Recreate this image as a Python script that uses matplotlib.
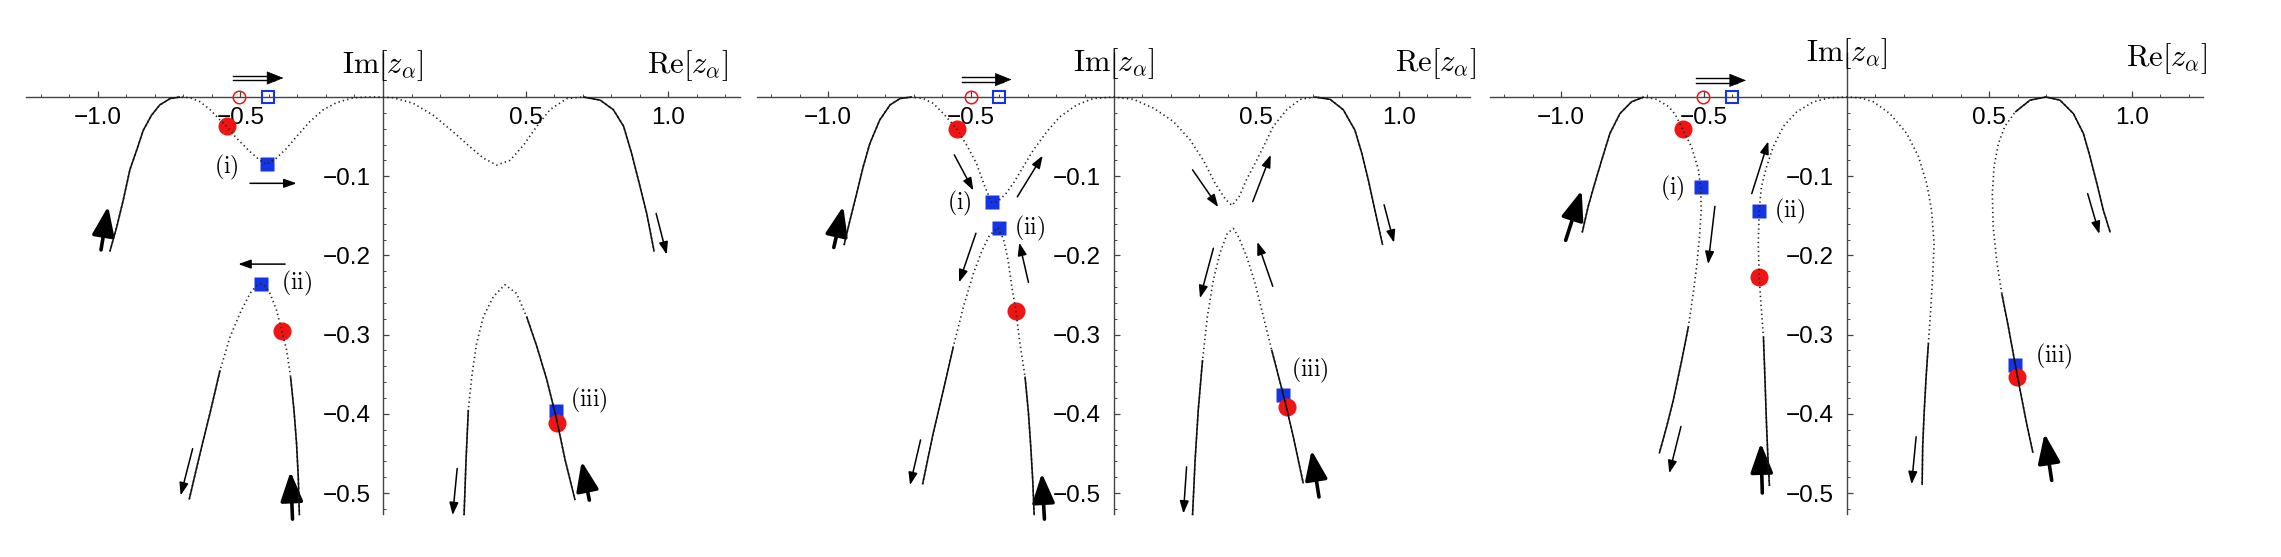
import numpy as np
import matplotlib
matplotlib.use("Agg")
import matplotlib.pyplot as plt

plt.rcParams['mathtext.fontset'] = 'cm'
plt.rcParams['font.family'] = ['Liberation Sans', 'DejaVu Sans']

# ---- curves, (Re, Im) pairs ----
p1_top = [(-0.957, -0.195), (-0.933, -0.164), (-0.910, -0.130), (-0.887, -0.092), (-0.863, -0.067),
          (-0.840, -0.042), (-0.811, -0.023), (-0.782, -0.010), (-0.746, -0.002), (-0.711, 0.000),
          (-0.676, -0.001), (-0.641, -0.006), (-0.606, -0.016), (-0.571, -0.029), (-0.548, -0.037),
          (-0.513, -0.052), (-0.466, -0.069), (-0.431, -0.080), (-0.408, -0.085), (-0.373, -0.077),
          (-0.338, -0.065), (-0.303, -0.050), (-0.256, -0.031), (-0.209, -0.016), (-0.162, -0.007),
          (-0.104, -0.001), (-0.050, 0.000), (0.000, 0.000), (0.036, -0.001), (0.106, -0.008),
          (0.176, -0.023), (0.246, -0.044), (0.305, -0.063), (0.351, -0.077), (0.398, -0.086),
          (0.445, -0.080), (0.492, -0.061), (0.539, -0.037), (0.585, -0.016), (0.644, -0.002),
          (0.702, 0.000), (0.761, -0.004), (0.807, -0.016), (0.843, -0.037), (0.871, -0.071),
          (0.895, -0.105), (0.924, -0.147), (0.950, -0.195)]
p1_low_left = [(-0.679, -0.508), (-0.641, -0.450), (-0.606, -0.399), (-0.571, -0.345), (-0.536, -0.303),
               (-0.501, -0.273), (-0.466, -0.248), (-0.443, -0.238), (-0.428, -0.236), (-0.410, -0.240),
               (-0.396, -0.248), (-0.373, -0.269), (-0.355, -0.295), (-0.338, -0.319), (-0.324, -0.353),
               (-0.312, -0.395), (-0.303, -0.437), (-0.297, -0.479), (-0.293, -0.528)]
p1_low_right = [(0.284, -0.528), (0.291, -0.458), (0.299, -0.395), (0.311, -0.353), (0.328, -0.311),
                (0.352, -0.277), (0.387, -0.252), (0.427, -0.237), (0.468, -0.248), (0.503, -0.277),
                (0.539, -0.315), (0.574, -0.357), (0.607, -0.405), (0.638, -0.458), (0.673, -0.509)]

p2_top = [(-0.944, -0.187), (-0.923, -0.155), (-0.900, -0.122), (-0.877, -0.088), (-0.854, -0.059),
          (-0.819, -0.029), (-0.783, -0.010), (-0.748, -0.002), (-0.708, 0.000), (-0.667, -0.002),
          (-0.632, -0.008), (-0.596, -0.021), (-0.550, -0.040), (-0.514, -0.061), (-0.480, -0.084),
          (-0.451, -0.113), (-0.427, -0.133), (-0.405, -0.132), (-0.377, -0.122), (-0.351, -0.109),
          (-0.316, -0.088), (-0.281, -0.067), (-0.234, -0.044), (-0.188, -0.025), (-0.129, -0.010),
          (-0.071, -0.002), (0.000, 0.000), (0.070, -0.003), (0.140, -0.014), (0.210, -0.031),
          (0.268, -0.054), (0.315, -0.080), (0.356, -0.109), (0.392, -0.129), (0.415, -0.137),
          (0.440, -0.126), (0.465, -0.105), (0.490, -0.088), (0.525, -0.063), (0.560, -0.037),
          (0.607, -0.016), (0.654, -0.003), (0.706, 0.000), (0.759, -0.003), (0.805, -0.016),
          (0.846, -0.042), (0.870, -0.071), (0.893, -0.105), (0.916, -0.143), (0.943, -0.187)]
p2_low_left = [(-0.669, -0.489), (-0.632, -0.425), (-0.596, -0.370), (-0.561, -0.315), (-0.526, -0.265),
               (-0.491, -0.223), (-0.462, -0.195), (-0.435, -0.175), (-0.405, -0.165), (-0.385, -0.180),
               (-0.370, -0.205), (-0.356, -0.240), (-0.342, -0.270), (-0.328, -0.311), (-0.310, -0.353),
               (-0.298, -0.399), (-0.290, -0.441), (-0.283, -0.484), (-0.278, -0.528)]
p2_low_right = [(0.277, -0.528), (0.286, -0.458), (0.297, -0.395), (0.312, -0.332), (0.329, -0.277),
                (0.350, -0.231), (0.373, -0.197), (0.399, -0.172), (0.420, -0.166), (0.440, -0.178),
                (0.467, -0.202), (0.496, -0.235), (0.525, -0.277), (0.554, -0.319), (0.600, -0.383),
                (0.630, -0.429), (0.665, -0.488)]

p3_left = [(-0.926, -0.171), (-0.905, -0.138), (-0.882, -0.109), (-0.858, -0.080), (-0.829, -0.046),
           (-0.794, -0.021), (-0.753, -0.006), (-0.710, 0.000), (-0.665, -0.003), (-0.624, -0.012),
           (-0.600, -0.022), (-0.574, -0.041), (-0.543, -0.063), (-0.519, -0.092), (-0.511, -0.114),
           (-0.509, -0.143), (-0.515, -0.176), (-0.525, -0.214), (-0.537, -0.248), (-0.554, -0.290),
           (-0.577, -0.332), (-0.607, -0.383), (-0.630, -0.416), (-0.656, -0.450)]
p3_mid = [(-0.270, -0.491), (-0.276, -0.450), (-0.280, -0.416), (-0.286, -0.353), (-0.291, -0.303),
          (-0.300, -0.260), (-0.306, -0.227), (-0.309, -0.185), (-0.306, -0.144), (-0.298, -0.113),
          (-0.280, -0.088), (-0.257, -0.063), (-0.221, -0.037), (-0.175, -0.019), (-0.116, -0.006),
          (-0.058, -0.001), (0.000, 0.000), (0.047, -0.001), (0.094, -0.006), (0.152, -0.021),
          (0.211, -0.046), (0.252, -0.075), (0.281, -0.109), (0.298, -0.143), (0.307, -0.185),
          (0.302, -0.227), (0.295, -0.269), (0.287, -0.311), (0.279, -0.353), (0.272, -0.399),
          (0.267, -0.441), (0.265, -0.490)]
p3_right = [(0.653, -0.449), (0.631, -0.412), (0.599, -0.353), (0.567, -0.290), (0.544, -0.248),
            (0.526, -0.206), (0.514, -0.164), (0.511, -0.122), (0.517, -0.088), (0.532, -0.059),
            (0.555, -0.037), (0.591, -0.019), (0.643, -0.004), (0.699, 0.000), (0.748, -0.004),
            (0.795, -0.021), (0.830, -0.046), (0.853, -0.075), (0.877, -0.109), (0.900, -0.143),
            (0.924, -0.171)]

# ---- marked points ----
p1_open_red, p1_open_blue = (-0.505, 0.0), (-0.404, 0.0)
p1_red = [(-0.548, -0.037), (-0.355, -0.295), (0.609, -0.412)]
p1_blue = [(-0.408, -0.085), (-0.428, -0.236), (0.605, -0.397)]
p2_open_red, p2_open_blue = (-0.499, 0.0), (-0.400, 0.0)
p2_red = [(-0.550, -0.040), (-0.342, -0.270), (0.607, -0.391)]
p2_blue = [(-0.427, -0.133), (-0.400, -0.166), (0.595, -0.376)]
p3_open_red, p3_open_blue = (-0.502, 0.0), (-0.400, 0.0)
p3_red = [(-0.574, -0.041), (-0.306, -0.227), (0.599, -0.353)]
p3_blue = [(-0.511, -0.114), (-0.306, -0.144), (0.591, -0.338)]

point_names = ['(i)', '(ii)', '(iii)']
p1_name_pos = [(-0.548, -0.089), (-0.303, -0.236), (0.720, -0.383)]
p2_name_pos = [(-0.540, -0.134), (-0.295, -0.166), (0.689, -0.345)]
p3_name_pos = [(-0.609, -0.115), (-0.200, -0.144), (0.725, -0.328)]

x_ticks = [-1.0, -0.5, 0.5, 1.0]
y_ticks = [-0.1, -0.2, -0.3, -0.4, -0.5]

# ---- arrows: (tail, tip) ----
p1_thin = [((-0.466, -0.109), (-0.303, -0.109)), ((-0.343, -0.211), (-0.507, -0.211)),
           ((0.957, -0.147), (0.994, -0.199)), ((-0.667, -0.444), (-0.709, -0.503)),
           ((0.260, -0.469), (0.244, -0.528))]
p1_thick = [((-0.988, -0.193), (-0.963, -0.138)), ((-0.317, -0.533), (-0.324, -0.473)),
            ((0.723, -0.509), (0.696, -0.460))]
p2_thin = [((-0.558, -0.073), (-0.491, -0.118)), ((-0.337, -0.126), (-0.248, -0.074)),
           ((-0.482, -0.172), (-0.541, -0.234)), ((-0.298, -0.234), (-0.330, -0.184)),
           ((0.277, -0.092), (0.367, -0.139)), ((0.488, -0.132), (0.551, -0.073)),
           ((0.350, -0.191), (0.303, -0.254)), ((0.558, -0.239), (0.504, -0.183)),
           ((0.948, -0.136), (0.983, -0.184)), ((-0.676, -0.433), (-0.713, -0.490)),
           ((0.256, -0.467), (0.245, -0.526))]
p2_thick = [((-0.980, -0.190), (-0.947, -0.138)), ((-0.242, -0.533), (-0.251, -0.475)),
            ((0.720, -0.505), (0.694, -0.446))]
p3_thin = [((-0.461, -0.138), (-0.485, -0.211)), ((-0.332, -0.122), (-0.274, -0.056)),
           ((0.845, -0.122), (0.886, -0.173)), ((-0.580, -0.416), (-0.621, -0.475)),
           ((0.244, -0.429), (0.228, -0.489))]
p3_thick = [((-0.984, -0.181), (-0.928, -0.118)), ((-0.295, -0.500), (-0.300, -0.437)),
            ((0.719, -0.484), (0.694, -0.425))]
p1_double = (-0.525, -0.349, 0.024)
p2_double = (-0.532, -0.357, 0.022)
p3_double = (-0.527, -0.352, 0.021)

W, H = 2281, 557
SX, SY = 285.4, 792.0
Y0 = 97.0
XLIM, YLIM = (-1.25, 1.25), (-0.527, 0.055)
RED, BLUE = '#f01414', '#1434e6'


def panel_axes(fig, ox):
    left = ox + XLIM[0] * SX
    right = ox + XLIM[1] * SX
    top = Y0 - YLIM[1] * SY
    bottom = Y0 - YLIM[0] * SY
    ax = fig.add_axes([left / W, 1 - bottom / H, (right - left) / W, (bottom - top) / H])
    ax.set_xlim(XLIM)
    ax.set_ylim(YLIM)
    ax.patch.set_visible(False)
    for s in ('top', 'right'):
        ax.spines[s].set_visible(False)
    for s in ('left', 'bottom'):
        ax.spines[s].set_position(('data', 0))
        ax.spines[s].set_color('#444444')
        ax.spines[s].set_linewidth(1.0)
    ax.set_xticks(x_ticks)
    ax.set_xticklabels([f'{v:.1f}'.replace('-', '\u2212') for v in x_ticks])
    ax.set_xticks(np.round(np.arange(-1.2, 1.21, 0.1), 2), minor=True)
    ax.set_yticks(y_ticks)
    ax.set_yticklabels([f'{v:.1f}'.replace('-', '\u2212') for v in y_ticks])
    ax.set_yticks(np.round(np.arange(-0.52, 0.001, 0.02), 2), minor=True)
    ax.tick_params(which='both', direction='in', color='#444444', labelsize=17.5)
    ax.tick_params(which='major', length=4, width=0.9)
    ax.tick_params(which='minor', length=2.5, width=0.7)
    ax.tick_params(axis='x', pad=7)
    ax.tick_params(axis='y', pad=9)
    return ax


def draw_curve(ax, pts, solid):
    xs, ys = zip(*pts)
    ax.plot(xs, ys, color='#222222', lw=1.2, ls=(0, (0.8, 1.9)), zorder=4, clip_on=False)
    for i0, i1 in solid:
        ax.plot(xs[i0:i1 + 1], ys[i0:i1 + 1], color='#111111', lw=1.15, zorder=4,
                clip_on=False, solid_capstyle='butt')


def arrow(ax, tail, tip, thick=False):
    if thick:
        props = dict(arrowstyle='-|>,head_length=0.5,head_width=0.19', mutation_scale=36,
                     lw=2.6, color='k', shrinkA=0, shrinkB=0)
    else:
        props = dict(arrowstyle='-|>,head_length=0.42,head_width=0.15', mutation_scale=18,
                     lw=1.1, color='k', shrinkA=0, shrinkB=0)
    ax.annotate('', xy=tip, xytext=tail, arrowprops=props, annotation_clip=False)


def double_arrow(ax, spec):
    x0, x1, y = spec
    for dy in (-0.0028, 0.0028):
        ax.plot([x0, x1 - 0.03], [y + dy, y + dy], color='k', lw=1.0, clip_on=False)
    ax.annotate('', xy=(x1, y), xytext=(x1 - 0.05, y), annotation_clip=False,
                arrowprops=dict(arrowstyle='-|>,head_length=0.55,head_width=0.22',
                                mutation_scale=20, lw=0.5, color='k', shrinkA=0, shrinkB=0))


def draw_points(ax, open_red, open_blue, reds, blues, name_pos):
    ax.plot(*open_red, 'o', ms=9, mfc='none', mec=RED, mew=1.1, zorder=3, clip_on=False)
    ax.plot(*open_blue, 's', ms=9, mfc='none', mec=BLUE, mew=1.5, zorder=3, clip_on=False)
    bx, by = zip(*blues)
    rx, ry = zip(*reds)
    ax.plot(bx, by, 's', ms=10.5, color=BLUE, mec='none', ls='none', zorder=3)
    ax.plot(rx, ry, 'o', ms=13, color=RED, mec='none', ls='none', zorder=3.5)
    for name, (x, y) in zip(point_names, name_pos):
        ax.text(x, y, r'$\mathrm{%s}$' % name, fontsize=17, ha='center', va='center')


def axis_labels(ax, im_y, re_x, re_y):
    ax.text(0, im_y, r'$\mathrm{Im}[z_\alpha]$', fontsize=22, ha='center', va='center')
    ax.text(re_x, re_y, r'$\mathrm{Re}[z_\alpha]$', fontsize=22, ha='center', va='center')


fig = plt.figure(figsize=(W / 100, H / 100), dpi=100)

# panel 1
ax1 = panel_axes(fig, 383.0)
draw_curve(ax1, p1_top, [(0, 9), (40, 47)])
draw_curve(ax1, p1_low_left, [(0, 3), (14, 18)])
draw_curve(ax1, p1_low_right, [(0, 2), (9, 14)])
draw_points(ax1, p1_open_red, p1_open_blue, p1_red, p1_blue, p1_name_pos)
for t, h in p1_thin:
    arrow(ax1, t, h)
for t, h in p1_thick:
    arrow(ax1, t, h, thick=True)
double_arrow(ax1, p1_double)
axis_labels(ax1, 0.040, 1.066, 0.040)

# panel 2
ax2 = panel_axes(fig, 1113.5)
draw_curve(ax2, p2_top, [(0, 8), (42, 49)])
draw_curve(ax2, p2_low_left, [(0, 3), (14, 18)])
draw_curve(ax2, p2_low_right, [(0, 3), (13, 16)])
draw_points(ax2, p2_open_red, p2_open_blue, p2_red, p2_blue, p2_name_pos)
for t, h in p2_thin:
    arrow(ax2, t, h)
for t, h in p2_thick:
    arrow(ax2, t, h, thick=True)
double_arrow(ax2, p2_double)
axis_labels(ax2, 0.042, 1.127, 0.042)

# panel 3
ax3 = panel_axes(fig, 1846.5)
draw_curve(ax3, p3_left, [(0, 7), (19, 23)])
draw_curve(ax3, p3_mid, [(0, 4), (27, 31)])
draw_curve(ax3, p3_right, [(0, 4), (11, 20)])
draw_points(ax3, p3_open_red, p3_open_blue, p3_red, p3_blue, p3_name_pos)
for t, h in p3_thin:
    arrow(ax3, t, h)
for t, h in p3_thick:
    arrow(ax3, t, h, thick=True)
double_arrow(ax3, p3_double)
axis_labels(ax3, 0.055, 1.123, 0.048)

fig.savefig('out.png', dpi=100)
